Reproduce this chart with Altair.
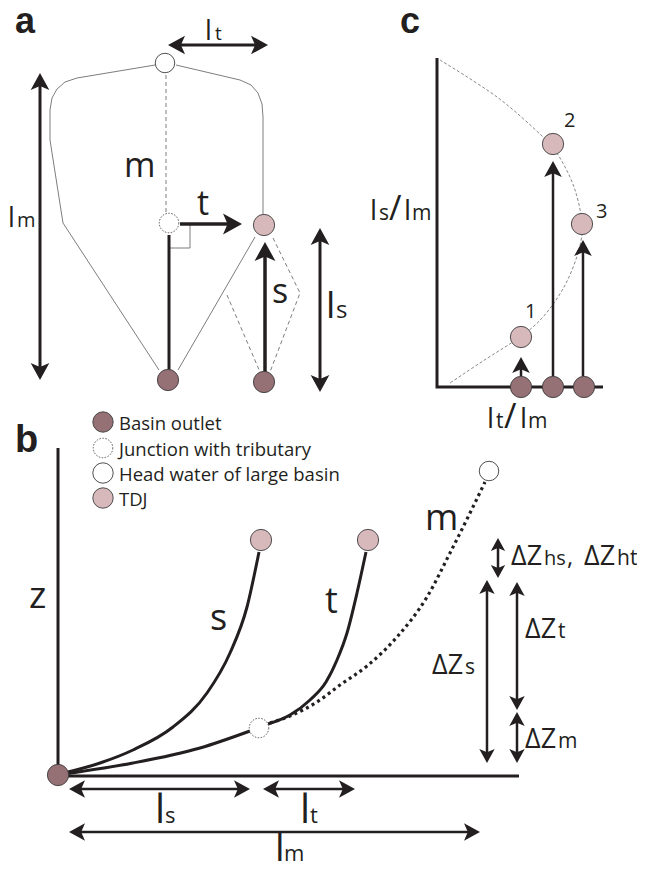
import math
import altair as alt
import pandas as pd

# ---------------- canvas (schematic drawn in figure units) ----------------
W, H = 629, 855
XD = [8, 637]
YD = [8, 863]

INK = "#231f20"
GRAY = "#6d6e71"
OUTLET = "#957074"
TDJC = "#d7b9bc"

# ---------------- nodes (circles) ----------------
node_x = [165, 169, 264, 168, 264, 521, 553, 582, 521, 553, 584,
          58, 261, 368, 489, 103, 103, 103]
node_y = [63, 380, 225, 380, 382, 337, 144, 224, 387, 387, 387,
          775, 540, 540, 471, 422, 473, 498]
node_kind = ["head", "outlet", "tdj", "outlet", "outlet", "tdj", "tdj", "tdj",
             "outlet", "outlet", "outlet", "outlet", "tdj", "tdj", "head",
             "outlet", "head", "tdj"]
node_r = [11, 0, 12, 12, 12, 12, 12, 12, 12, 12, 12, 12, 12, 12, 11, 11.5, 11.5, 11.5]
junction_x = [169, 259, 103]
junction_y = [223, 728, 448]

# ---------------- panel a outline paths ----------------
basin_outline = [
    [(155, 65), (77, 78), (65, 82), (57, 89), (52, 98), (50, 110), (50, 140),
     (63, 223), (159, 370)],
    [(176, 65), (240, 80), (251, 85), (258, 93), (262, 104), (263, 117), (263, 214)],
    [(255, 237), (178, 370)],
    [(169, 248), (190, 248), (190, 224)],
]
basin_dashed = [
    [(166, 75), (166, 212)],
    [(273, 238), (300, 293), (270, 372)],
    [(227, 295), (260, 372)],
]
thick_straight = [
    [(437, 58), (437, 387), (603, 387)],
    [(58, 448), (58, 776), (519, 776)],
    [(169, 235), (169, 370)],
]
# panel c dashed arc
arc_c = [(440, 60), (497, 97), (543, 137), (560, 158), (575, 190), (582, 225),
         (578, 253), (564, 287), (543, 317), (520, 337), (483, 361), (450, 383)]

# ---------------- panel b profiles ----------------
profile_s = [(64, 773), (100, 763), (133, 750), (173, 727), (207, 693),
             (230, 653), (247, 607), (259, 552)]
profile_main = [(64, 774), (133, 763), (200, 748), (250, 731)]
profile_t = [(268, 724), (290, 715), (310, 700), (326, 682), (337, 660),
             (347, 633), (357, 593), (366, 552)]
profile_m = [(270, 723), (290, 716), (317, 702), (340, 685), (367, 666),
             (397, 637), (427, 597), (450, 553), (470, 513), (485, 482)]

# ---------------- arrows: x1, y1, x2, y2, heads, stroke width, head unit ----
arrow_x1 = [168, 40, 320, 180, 265, 521, 553, 583, 69, 263, 69, 498, 487, 517, 517]
arrow_y1 = [45, 73, 228, 224, 372, 376, 376, 376, 789, 789, 832, 538, 580, 582, 712]
arrow_x2 = [268, 40, 320, 242, 265, 521, 553, 583, 250, 355, 480, 498, 487, 517, 517]
arrow_y2 = [45, 380, 392, 224, 242, 357, 161, 240, 789, 789, 832, 578, 763, 710, 763]
arrow_heads = ["both", "both", "both", "end", "end", "end", "end", "end",
               "both", "both", "both", "both", "both", "both", "both"]
arrow_w = [3, 3, 3, 3.5, 3.5, 2.5, 2.5, 2.5, 2.5, 2.5, 2.5, 2.5, 2.5, 2.5, 2.5]
arrow_u = [17, 17, 17, 19, 19, 16, 16, 16, 16, 16, 16, 13, 14, 14, 14]

# ---------------- text pieces ----------------
panel_text = ["a", "c", "b"]
panel_tx = [15, 400, 15]
panel_ty = [33, 33, 452]
panel_size = [36, 36, 38]

label_text = ["l", "t", "l", "m", "m", "t", "s", "l", "s",
              "l", "s", "/", "l", "m", "l", "t", "/", "l", "m", "2", "3", "1",
              "z", "s", "t", "m",
              "ΔZ", "hs", ",", "ΔZ", "ht", "ΔZ", "t", "ΔZ", "s", "ΔZ", "m",
              "l", "s", "l", "t", "l", "m",
              "Basin outlet", "Junction with tributary", "Head water of large basin", "TDJ"]
label_x = [205, 215, 8, 17, 124, 197, 272, 326, 336,
           370, 379, 389, 404, 412, 487, 496, 504, 520, 528, 564, 596, 525,
           29, 210, 325, 425,
           511, 544, 567, 584, 617, 525, 558, 432, 465, 525, 558,
           155, 165, 300, 310, 275, 284,
           119, 119, 119, 119]
label_y = [40, 40, 227, 227, 177, 215, 303, 318, 318,
           220, 220, 220, 220, 220, 428, 428, 428, 428, 428, 127, 218, 318,
           608, 630, 613, 530,
           565, 565, 565, 565, 565, 638, 638, 674, 674, 748, 748,
           823, 823, 823, 823, 861, 861,
           430, 456, 481, 506]
label_size = [27, 19, 27, 20, 34, 34, 34, 37, 24,
              28, 21, 34, 28, 21, 28, 21, 34, 28, 21, 20, 20, 20,
              37, 36, 36, 36,
              27, 20, 24, 27, 21, 27, 21, 27, 21, 27, 21,
              40, 22, 40, 22, 38, 22,
              18.5, 18.5, 18.5, 18.5]

# ---------------- build tables ----------------
def paths_df(paths):
    rows = []
    for g, pts in enumerate(paths):
        for i, (x, y) in enumerate(pts):
            rows.append({"g": g, "i": i, "x": x, "y": y})
    return pd.DataFrame(rows)

xs = alt.Scale(domain=XD, nice=False, zero=False)
ys = alt.Scale(domain=YD, nice=False, zero=False, reverse=True)
X = lambda f="x": alt.X(f"{f}:Q", scale=xs, axis=None)
Y = lambda f="y": alt.Y(f"{f}:Q", scale=ys, axis=None)


def line_layer(df, **mk):
    return alt.Chart(df).mark_line(**mk).encode(
        x=X(), y=Y(), detail="g:N", order="i:Q")


outline = line_layer(paths_df(basin_outline), color=GRAY, strokeWidth=0.9)
dashed = line_layer(paths_df(basin_dashed), color=GRAY, strokeWidth=0.9, strokeDash=[4, 3])
arc = line_layer(paths_df([arc_c]), color="#7a7a7a", strokeWidth=0.9,
                 strokeDash=[3, 2], interpolate="cardinal")
straight = line_layer(paths_df(thick_straight), color=INK, strokeWidth=3,
                      strokeCap="butt")
curves = line_layer(paths_df([profile_s, profile_main, profile_t]), color=INK,
                    strokeWidth=3, interpolate="monotone")
dotted = line_layer(paths_df([profile_m]), color=INK, strokeWidth=3.2,
                    strokeDash=[3, 3.5], interpolate="monotone")

# arrows
stem_rows, head_rows = [], []
for x1, y1, x2, y2, hd, w, u in zip(arrow_x1, arrow_y1, arrow_x2, arrow_y2,
                                    arrow_heads, arrow_w, arrow_u):
    dx, dy = x2 - x1, y2 - y1
    L = math.hypot(dx, dy)
    ux, uy = dx / L, dy / L
    sx1, sy1 = x1, y1
    ang_end = math.degrees(math.atan2(dx, -dy)) % 360
    ang_start = (ang_end + 180) % 360
    size = (2 * u) ** 2
    head_rows.append({"x": x2, "y": y2, "ang": ang_end, "sz": size})
    sx2, sy2 = x2 - ux * u * 0.6, y2 - uy * u * 0.6
    if hd == "both":
        head_rows.append({"x": x1, "y": y1, "ang": ang_start, "sz": size})
        sx1, sy1 = x1 + ux * u * 0.6, y1 + uy * u * 0.6
    stem_rows.append({"x": sx1, "y": sy1, "x2": sx2, "y2": sy2, "w": w})

stems = alt.Chart(pd.DataFrame(stem_rows)).mark_rule(color=INK, strokeCap="butt").encode(
    x=X(), y=Y(), x2="x2:Q", y2="y2:Q",
    strokeWidth=alt.StrokeWidth("w:Q", scale=None))
HEAD = "M0,0L0.55,1L0,0.76L-0.55,1Z"
heads = alt.Chart(pd.DataFrame(head_rows)).mark_point(
    shape=HEAD, filled=True, color=INK, opacity=1, strokeWidth=0).encode(
    x=X(), y=Y(), angle=alt.Angle("ang:Q", scale=None),
    size=alt.Size("sz:Q", scale=None))

# circles
fills = {"head": "#ffffff", "outlet": OUTLET, "tdj": TDJC}
nodes = pd.DataFrame({"x": node_x, "y": node_y, "kind": node_kind, "r": node_r})
nodes = nodes[nodes["r"] > 0].copy()
nodes["fill"] = nodes["kind"].map(fills)
nodes["sz"] = math.pi * nodes["r"] ** 2
circles = alt.Chart(nodes).mark_point(
    shape="circle", filled=True, opacity=1, stroke="#3d3d3d", strokeWidth=0.9).encode(
    x=X(), y=Y(), fill=alt.Fill("fill:N", scale=None),
    size=alt.Size("sz:Q", scale=None))
junc = pd.DataFrame({"x": junction_x, "y": junction_y})
junctions = alt.Chart(junc).mark_point(
    shape="circle", filled=True, fill="#ffffff", opacity=1, stroke="#555555",
    strokeWidth=1, strokeDash=[1.5, 1.5], size=math.pi * 11 ** 2).encode(x=X(), y=Y())

# texts
labels = pd.DataFrame({"t": label_text, "x": label_x, "y": label_y, "s": label_size})
texts = alt.Chart(labels).mark_text(
    align="left", baseline="alphabetic", font="Open Sans", color=INK).encode(
    x=X(), y=Y(), text="t:N", size=alt.Size("s:Q", scale=None))
panels = pd.DataFrame({"t": panel_text, "x": panel_tx, "y": panel_ty, "s": panel_size})
ptexts = alt.Chart(panels).mark_text(
    align="left", baseline="alphabetic", font="Liberation Sans", fontWeight="bold",
    color=INK).encode(x=X(), y=Y(), text="t:N", size=alt.Size("s:Q", scale=None))

chart = alt.layer(
    outline, dashed, arc, straight, curves, dotted, stems, heads,
    circles, junctions, texts, ptexts
).properties(
    width=W, height=H, padding=0, autosize=alt.AutoSizeParams(type="none"),
    background="white"
).configure_view(stroke=None)

chart.save("out.html", embed_options={"renderer": "svg", "actions": False})
